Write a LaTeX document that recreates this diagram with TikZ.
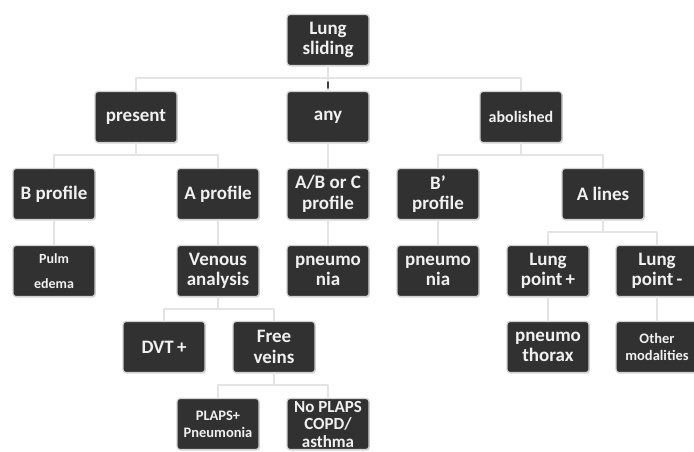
\documentclass[tikz,border=0pt]{standalone}
\usepackage{fontspec}
\setmainfont{Carlito}
\usepackage{tikz}
\usetikzlibrary{shadows}
\definecolor{boxgray}{HTML}{313131}
\definecolor{linkgray}{HTML}{E4E4E4}

\begin{document}
\begin{tikzpicture}[line cap=round,line join=round,x=1pt,y=-1pt,
  box/.style={rectangle,rounded corners=3pt,fill=boxgray,draw=black!18,line width=1.2pt,
    text=white!94!black,minimum width=82pt,minimum height=51pt,inner sep=1pt,align=center,
    drop shadow={shadow xshift=0.8pt,shadow yshift=-1.2pt,fill=black!30},
    font=\bfseries\fontsize{19}{20.5}\selectfont},
  mid/.style={font=\bfseries\fontsize{16}{25}\selectfont},
  low/.style={font=\bfseries\fontsize{14}{25}\selectfont},
  small/.style={font=\bfseries\fontsize{14.5}{17}\selectfont},
  tight/.style={font=\bfseries\fontsize{17}{17.5}\selectfont},
  link/.style={draw=linkgray,line width=1.5pt}]
\useasboundingbox (0,0) rectangle (694,451);
% level 1 and 2
\node [box] (ls) at (328,40) {Lung\\sliding};
\node [box] (pres) at (136,117) {present};
\node [box] (any) at (328,117) {any};
\node [box,mid] (abol) at (521,117) {abolished};
% level 3
\node [box] (bprof) at (54,194) {B profile};
\node [box] (aprof) at (218,194) {A profile};
\node [box] (abc) at (328,194) {A/B or C\\profile};
\node [box] (bprime) at (438,194) {B’\\profile};
\node [box] (alines) at (603,194) {A lines};
% level 4
\node [box,low] (pulm) at (54,271) {Pulm\\edema};
\node [box] (venous) at (218,271) {Venous\\analysis};
\node [box] (pneuA) at (328,271) {pneumo\\nia};
\node [box] (pneuB) at (438,271) {pneumo\\nia};
\node [box] (lpplus) at (548,271) {Lung\\point\,+};
\node [box] (lpminus) at (657,271) {Lung\\point\,-};
% level 5
\node [box] (dvt) at (164,347) {DVT\,+};
\node [box] (free) at (274,347) {Free\\veins};
\node [box] (ptx) at (548,347) {pneumo\\thorax};
\node [box,small] (other) at (657,347) {Other\\modalities};
% level 6
\node [box,small] (plaps) at (218,424) {PLAPS+\\Pneumonia};
\node [box,tight] (noplaps) at (328,424) {No PLAPS\\COPD/\\asthma};
% connectors
\draw [link] (ls.south) -- ++(0,12) -| (pres.north);
\draw [link] (ls.south) -- ++(0,12) -| (any.north);
\draw [link] (ls.south) -- ++(0,12) -| (abol.north);
\coordinate (tick) at (328,82);
\draw [line width=1.5pt,black!75] (tick) -- ++(0,6);
\draw [link] (pres.south) -- ++(0,12) -| (bprof.north);
\draw [link] (pres.south) -- ++(0,12) -| (aprof.north);
\draw [link] (any.south) -- (abc.north);
\draw [link] (abol.south) -- ++(0,12) -| (bprime.north);
\draw [link] (abol.south) -- ++(0,12) -| (alines.north);
\draw [link] (bprof.south) -- (pulm.north);
\draw [link] (aprof.south) -- (venous.north);
\draw [link] (abc.south) -- (pneuA.north);
\draw [link] (bprime.south) -- (pneuB.north);
\draw [link] (alines.south) -- ++(0,12) -| (lpplus.north);
\draw [link] (alines.south) -- ++(0,12) -| (lpminus.north);
\draw [link] (venous.south) -- ++(0,12) -| (dvt.north);
\draw [link] (venous.south) -- ++(0,12) -| (free.north);
\draw [link] (lpplus.south) -- (ptx.north);
\draw [link] (lpminus.south) -- (other.north);
\draw [link] (free.south) -- ++(0,12) -| (plaps.north);
\draw [link] (free.south) -- ++(0,12) -| (noplaps.north);
\end{tikzpicture}
\end{document}
